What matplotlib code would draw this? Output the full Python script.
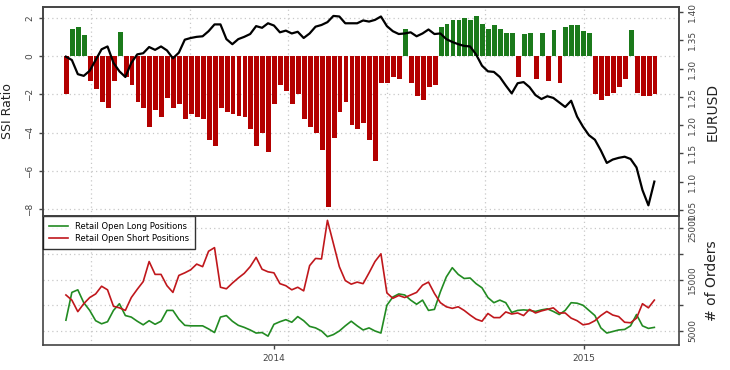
import numpy as np
import matplotlib
matplotlib.use("Agg")
import matplotlib.pyplot as plt
import matplotlib.dates as mdates

# weekly observations (Monday of each week)
start_week = np.datetime64("2013-04-29")
n_weeks = 100

# SSI ratio, one value per week
ssi = [-2.0, 1.4, 1.5, 1.1, -1.3, -1.7, -2.4, -2.7, -1.3, 1.25,
       -1.1, -1.5, -2.4, -2.7, -3.7, -2.8, -3.2, -2.2, -2.7, -2.5,
       -3.3, -3.0, -3.2, -3.3, -4.4, -4.7, -2.7, -2.9, -3.0, -3.1,
       -3.2, -3.8, -4.7, -4.0, -5.0, -2.5, -1.5, -1.8, -2.5, -2.0,
       -3.3, -3.7, -4.0, -4.9, -7.9, -4.3, -2.9, -2.4, -3.6, -3.8,
       -3.5, -4.4, -5.5, -1.4, -1.4, -1.1, -1.2, 1.4, -1.4, -2.1,
       -2.3, -1.6, -1.5, 1.5, 1.7, 1.9, 1.9, 2.0, 1.9, 2.1,
       1.7, 1.4, 1.6, 1.4, 1.2, 1.2, -1.1, 1.15, 1.2, -1.2,
       1.2, -1.3, 1.35, -1.4, 1.5, 1.6, 1.6, 1.3, 1.2, -2.0,
       -2.3, -2.1, -1.9, -1.6, -1.2, 1.35, -1.9, -2.1, -2.1, -2.0]

# EURUSD close
eurusd = [1.321, 1.315, 1.290, 1.287, 1.296, 1.315, 1.334, 1.339, 1.310, 1.295,
          1.285, 1.310, 1.325, 1.327, 1.338, 1.333, 1.339, 1.332, 1.318, 1.328,
          1.351, 1.354, 1.356, 1.357, 1.366, 1.378, 1.378, 1.352, 1.343, 1.352,
          1.356, 1.361, 1.375, 1.372, 1.380, 1.376, 1.364, 1.367, 1.362, 1.365,
          1.354, 1.362, 1.374, 1.377, 1.382, 1.393, 1.392, 1.380, 1.380, 1.380,
          1.385, 1.383, 1.386, 1.392, 1.375, 1.366, 1.361, 1.362, 1.364, 1.357,
          1.362, 1.369, 1.361, 1.362, 1.352, 1.347, 1.343, 1.340, 1.339, 1.325,
          1.305, 1.295, 1.294, 1.285, 1.270, 1.256, 1.274, 1.276, 1.267, 1.253,
          1.246, 1.251, 1.248, 1.240, 1.232, 1.243, 1.215, 1.197, 1.182, 1.174,
          1.155, 1.133, 1.139, 1.142, 1.144, 1.140, 1.125, 1.085, 1.058, 1.100]

# retail open positions (# of orders)
long_pos = [7100, 12500, 13000, 10500, 9000, 7000, 6400, 6800, 9000, 10300,
            8000, 7700, 6900, 6200, 7000, 6300, 6900, 9000, 9000, 7300,
            6100, 6000, 6000, 6000, 5400, 4700, 7700, 8000, 6900, 6100,
            5700, 5200, 4600, 4700, 4000, 6300, 6800, 7200, 6700, 7800,
            7000, 5900, 5600, 5000, 3900, 4300, 5000, 6000, 6900, 6000,
            5200, 5600, 5000, 4600, 10000, 11600, 12200, 12000, 11000, 10200,
            11000, 9000, 9200, 12600, 15500, 17300, 16000, 15200, 15300, 14200,
            13400, 11500, 10500, 11000, 10500, 8600, 9000, 9100, 9000, 8800,
            9100, 9300, 8800, 8200, 9000, 10500, 10400, 10000, 9000, 8000,
            5600, 4600, 4900, 5200, 5300, 6000, 8200, 6000, 5500, 5700]
short_pos = [12000, 11000, 8760, 10300, 11500, 12200, 13700, 13000, 9800, 9500,
             9000, 11500, 13100, 14600, 18500, 16000, 16000, 13800, 12500, 15800,
             16300, 16900, 18000, 17500, 20500, 21200, 13500, 13200, 14300, 15300,
             16200, 17500, 19300, 17000, 16500, 16300, 14200, 13800, 13000, 13500,
             12800, 17700, 19100, 19000, 26500, 22000, 17500, 14800, 14100, 14500,
             14200, 16300, 18500, 20000, 12400, 11350, 11900, 11500, 12000, 12500,
             13900, 14500, 12300, 10500, 9700, 9400, 9700, 9000, 8100, 7300,
             6900, 8400, 7600, 7600, 8700, 8300, 8500, 8000, 9200, 8500,
             8900, 9200, 9500, 8500, 8500, 7500, 7000, 6200, 6400, 7000,
             8000, 8800, 8100, 7800, 6700, 6600, 7500, 10300, 9500, 11000]

weeks = start_week + np.arange(n_weeks) * np.timedelta64(7, "D")
mid = weeks + np.timedelta64(2, "D")

green = "#1b7a1b"
red = "#b30000"
line_green = "#228b22"
line_red = "#c0171c"
tick_col = "#444444"
grid_col = "#c8c8c8"

fig = plt.figure(figsize=(7.3, 3.7), dpi=100)
ax1 = fig.add_axes([0.0589, 0.416, 0.8712, 0.5654])
ax2 = fig.add_axes([0.0589, 0.0676, 0.8712, 0.3484], sharex=ax1)

xmin = np.datetime64("2013-04-04")
xmax = np.datetime64("2015-04-23")

# vertical grid lines (R grid spacing)
vgrid = np.datetime64("2015-01-01") - np.arange(6) * np.timedelta64(116, "D")

# top panel: SSI bars
cols = [green if v > 0 else red for v in ssi]
ax1.bar(weeks, ssi, width=5.7, align="edge", color=cols, linewidth=0, zorder=2)
ax1.set_ylim(-8.35, 2.57)
ax1.set_yticks([2, 0, -2, -4, -6, -8])
for y in [2, 0, -2, -4, -6, -8]:
    ax1.axhline(y, color=grid_col, ls=(0, (1, 2.5)), lw=0.9, zorder=0)
for g in vgrid:
    ax1.axvline(g, color=grid_col, ls=(0, (1, 2.5)), lw=0.9, zorder=0)
ax1.set_ylabel("SSI Ratio", fontsize=9, color="#222222", labelpad=8)
ax1.tick_params(axis="x", bottom=False, labelbottom=False)

ax1r = ax1.twinx()
ax1r.plot(mid, eurusd, color="black", lw=1.6, zorder=3)
ax1r.set_ylim(1.039, 1.409)
ax1r.set_yticks([1.05, 1.10, 1.15, 1.20, 1.25, 1.30, 1.35, 1.40])
ax1r.set_yticklabels(["1.05", "1.10", "1.15", "1.20", "1.25", "1.30", "1.35", "1.40"])
ax1r.set_ylabel("EURUSD", fontsize=10, color="#222222", labelpad=6)

# bottom panel: positions
for g in vgrid:
    ax2.axvline(g, color=grid_col, ls=(0, (1, 2.5)), lw=0.9, zorder=0)
for y in [5000, 10000, 15000, 20000, 25000]:
    ax2.axhline(y, color=grid_col, ls=(0, (1, 2.5)), lw=0.9, zorder=0)
ax2.plot(mid, long_pos, color=line_green, lw=1.2, label="Retail Open Long Positions")
ax2.plot(mid, short_pos, color=line_red, lw=1.2, label="Retail Open Short Positions")
ax2.set_ylim(2280, 27330)
ax2.yaxis.tick_right()
ax2.yaxis.set_label_position("right")
ax2.set_yticks([5000, 10000, 15000, 20000, 25000])
ax2.set_yticklabels(["5000", "", "15000", "", "25000"])
ax2.set_ylabel("# of Orders", fontsize=10, color="#222222", labelpad=6)
ax2.set_xlim(xmin, xmax)
ax2.set_xticks([np.datetime64("2014-01-01"), np.datetime64("2015-01-01")])
ax2.xaxis.set_major_formatter(mdates.DateFormatter("%Y"))

leg = ax2.legend(loc="upper left", bbox_to_anchor=(0, 1), borderaxespad=0,
                 fontsize=6, frameon=True, fancybox=False, handlelength=2.3,
                 labelspacing=0.35, borderpad=0.7)
leg.get_frame().set_edgecolor("black")
leg.get_frame().set_linewidth(1.0)

for ax in (ax1, ax1r, ax2):
    for s in ax.spines.values():
        s.set_color("#444444")
        s.set_linewidth(1.2)
    ax.tick_params(labelsize=6.5, colors=tick_col, length=3, width=1)

for lab in ax1.get_yticklabels() + ax1r.get_yticklabels() + ax2.get_yticklabels():
    lab.set_rotation(90)
    lab.set_va("center")

fig.savefig("out.png", dpi=100)
